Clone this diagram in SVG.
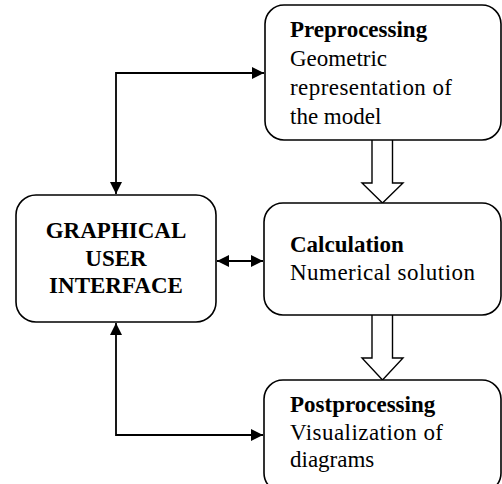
<svg xmlns="http://www.w3.org/2000/svg" width="502" height="484" viewBox="0 0 502 484">
<defs>
<style>
.box{fill:#fff;stroke:#000;stroke-width:1.6}
.ln{fill:none;stroke:#000;stroke-width:1.8}
.hol{fill:#fff;stroke:#000;stroke-width:1.4;stroke-linejoin:miter}
.t{font-family:"Liberation Serif","Times New Roman",serif;font-size:23px;fill:#000}
.b{font-weight:bold}
</style>
<marker id="ah" viewBox="0 0 12 12" refX="12" refY="6" markerWidth="12" markerHeight="12" markerUnits="userSpaceOnUse" orient="auto-start-reverse">
<path d="M0,0 L12,6 L0,12 Z" fill="#000"/>
</marker>
</defs>
<rect width="502" height="484" fill="#fff"/>
<g id="connectors">
<polyline class="ln" points="116,194 116,73 264,73" marker-start="url(#ah)" marker-end="url(#ah)"/>
<line class="ln" x1="217" y1="261" x2="263" y2="261" marker-start="url(#ah)" marker-end="url(#ah)"/>
<polyline class="ln" points="116,323 116,435 263,435" marker-start="url(#ah)" marker-end="url(#ah)"/>
<path class="hol" d="M372,140 L372,183 L362,183 L382.5,203 L403,183 L392.5,183 L392.5,140"/>
<path class="hol" d="M372,315 L372,358 L362,358 L382.5,380 L403,358 L392.5,358 L392.5,315"/>
</g>
<g id="gui">
<rect class="box" x="16" y="195" width="200" height="127" rx="20"/>
<text class="t b" x="116" y="238" text-anchor="middle">GRAPHICAL</text>
<text class="t b" x="116" y="266" text-anchor="middle">USER</text>
<text class="t b" x="116" y="293" text-anchor="middle">INTERFACE</text>
</g>
<g id="preprocessing">
<rect class="box" x="265" y="5" width="236" height="135" rx="19"/>
<text class="t b" x="290" y="37">Preprocessing</text>
<text class="t" x="290" y="66">Geometric</text>
<text class="t" x="290" y="95" textLength="162" lengthAdjust="spacing">representation of</text>
<text class="t" x="290" y="124">the model</text>
</g>
<g id="calculation">
<rect class="box" x="264" y="203" width="237" height="112" rx="19"/>
<text class="t b" x="290" y="252">Calculation</text>
<text class="t" x="290" y="280" textLength="185" lengthAdjust="spacing">Numerical solution</text>
</g>
<g id="postprocessing">
<rect class="box" x="264" y="380" width="237" height="112" rx="19"/>
<text class="t b" x="290" y="412">Postprocessing</text>
<text class="t" x="290" y="440" textLength="153" lengthAdjust="spacing">Visualization of</text>
<text class="t" x="290" y="467">diagrams</text>
</g>
</svg>
